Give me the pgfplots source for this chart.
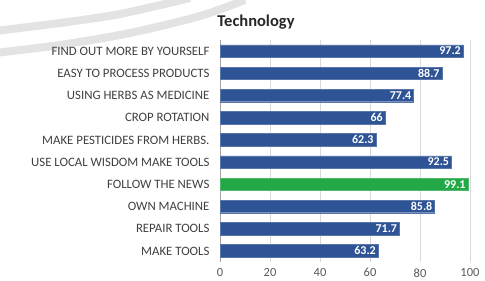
\documentclass[border=0pt]{standalone}
\usepackage{pgfplots}
\pgfplotsset{compat=1.18}
\usepackage{fontspec}
\setmainfont{Carlito}
\definecolor{barblue}{RGB}{47,84,150}
\definecolor{bargreen}{RGB}{34,168,70}
\definecolor{labgray}{RGB}{64,64,64}
\definecolor{tickgray}{RGB}{89,89,89}
\definecolor{gridgray}{RGB}{217,217,217}
\begin{document}
\begin{tikzpicture}[x=1pt,y=1pt]
\useasboundingbox (0,0) rectangle (485,281);
% faint watermark arcs
\draw[line width=8pt, gray!22] plot[smooth] coordinates {(-5,250) (60,258) (120,267) (190,283)};
\draw[line width=8pt, gray!22] plot[smooth] coordinates {(-5,228) (60,236) (130,248) (200,265) (245,281)};
\node[font=\bfseries\fontsize{16.5}{18}\selectfont, text=black!85] at (256,259) {Technology};
\begin{axis}[
  at={(220pt,19pt)}, anchor=south west,
  scale only axis, width=250pt, height=222pt,
  xbar, bar width=12.5pt, bar shift=0pt,
  xmin=0, xmax=100, ymin=0.5, ymax=10.5,
  xtick={0,20,40,60,80,100},
  ytick={1,...,10},
  yticklabels={MAKE TOOLS, REPAIR TOOLS, OWN MACHINE, FOLLOW THE NEWS, USE LOCAL WISDOM MAKE TOOLS, MAKE PESTICIDES FROM HERBS., CROP ROTATION, USING HERBS AS MEDICINE, EASY TO PROCESS PRODUCTS, FIND OUT MORE BY YOURSELF},
  /pgf/number format/assume math mode=true,
  axis x line*=bottom, axis y line*=left,
  x axis line style={draw=none},
  y axis line style={draw=gray!70, line width=0.8pt},
  major tick length=0pt,
  xmajorgrids, grid style={gridgray, line width=0.6pt},
  xticklabel style={text=tickgray, yshift=-3pt, font=\fontsize{12.5}{14}\selectfont},
  yticklabel style={text=labgray, xshift=-7pt, font=\fontsize{12.8}{14}\selectfont},
  point meta=x,
  nodes near coords,
  nodes near coords style={anchor=east, text=white, font=\bfseries\fontsize{12}{13}\selectfont, inner sep=2pt},
  clip=false,
]
\addplot[fill=barblue, draw=barblue!80!white] coordinates {
  (63.2,1) (71.7,2) (85.8,3) (92.5,5) (62.3,6) (66,7) (77.4,8) (88.7,9) (97.2,10)
};
\addplot[fill=bargreen, draw=bargreen!80!white] coordinates {
  (99.1,4)
};
\end{axis}
\end{tikzpicture}
\end{document}
